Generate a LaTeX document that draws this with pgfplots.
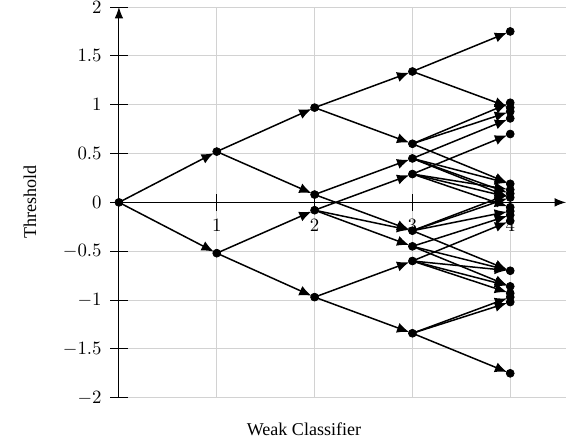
\documentclass[border=0pt]{standalone}
\usepackage{fontspec}
\setmainfont{Liberation Serif}
\usepackage{pgfplots}
\pgfplotsset{compat=1.18}
\usetikzlibrary{arrows.meta}
\begin{document}
\begin{tikzpicture}
\begin{axis}[
  scale only axis,
  width=238pt, height=208pt,
  xmin=0, xmax=4.57, ymin=-2, ymax=2,
  axis lines=middle,
  axis line style={-{Latex[length=6pt,width=4.5pt]}, line width=0.5pt},
  xtick={1,2,3,4},
  ytick={-2,-1.5,-1,-0.5,0,0.5,1,1.5,2},
  yticklabels={$-2$,$-1.5$,$-1$,$-0.5$,$0$,$0.5$,$1$,$1.5$,$2$},
  hide obscured y ticks=false,
  hide obscured x ticks=false,
  tick align=center,
  major tick length=0.33cm,
  tick style={black, line width=0.5pt},
  grid=major,
  grid style={gray!35, line width=0.5pt},
  xticklabel style={anchor=north, yshift=-1pt},
  yticklabel style={anchor=east, xshift=-1pt},
  xlabel={Weak Classifier},
  ylabel={Threshold},
  xlabel style={at={(axis description cs:0.414,-0.097)}, anchor=base, font=\fontsize{9.6}{11}\selectfont},
  ylabel style={at={(axis description cs:-0.199,0.5)}, anchor=center, rotate=90, font=\fontsize{9.6}{11}\selectfont},
  clip=false,
  edge/.style={black, line width=0.8pt, -{Latex[length=6.5pt,width=5.5pt]}, shorten >=1.8pt},
]
\coordinate (bbll) at (axis description cs:-0.266,-0.110);
\coordinate (bbur) at (axis description cs:1.0157,1.018);
% level 0 -> 1
\addplot[edge] coordinates {(0,0) (1,0.52)};
\addplot[edge] coordinates {(0,0) (1,-0.52)};
% level 1 -> 2
\addplot[edge] coordinates {(1,0.52) (2,0.97)};
\addplot[edge] coordinates {(1,0.52) (2,0.08)};
\addplot[edge] coordinates {(1,-0.52) (2,-0.08)};
\addplot[edge] coordinates {(1,-0.52) (2,-0.97)};
% level 2 -> 3
\addplot[edge] coordinates {(2,0.97) (3,1.34)};
\addplot[edge] coordinates {(2,0.97) (3,0.60)};
\addplot[edge] coordinates {(2,0.08) (3,0.45)};
\addplot[edge] coordinates {(2,0.08) (3,-0.29)};
\addplot[edge] coordinates {(2,-0.08) (3,0.29)};
\addplot[edge] coordinates {(2,-0.08) (3,-0.29)};
\addplot[edge] coordinates {(2,-0.08) (3,-0.45)};
\addplot[edge] coordinates {(2,-0.97) (3,-0.60)};
\addplot[edge] coordinates {(2,-0.97) (3,-1.34)};
% level 3 -> 4 (upper)
\addplot[edge] coordinates {(3,1.34) (4,1.75)};
\addplot[edge] coordinates {(3,1.34) (4,0.97)};
\addplot[edge] coordinates {(3,0.60) (4,1.02)};
\addplot[edge] coordinates {(3,0.60) (4,0.93)};
\addplot[edge] coordinates {(3,0.60) (4,0.19)};
\addplot[edge] coordinates {(3,0.45) (4,0.86)};
\addplot[edge] coordinates {(3,0.45) (4,0.19)};
\addplot[edge] coordinates {(3,0.45) (4,0.09)};
\addplot[edge] coordinates {(3,0.45) (4,0.05)};
\addplot[edge] coordinates {(3,0.29) (4,0.70)};
\addplot[edge] coordinates {(3,0.29) (4,0.13)};
\addplot[edge] coordinates {(3,0.29) (4,0.05)};
\addplot[edge] coordinates {(3,0.29) (4,-0.05)};
% level 3 -> 4 (lower)
\addplot[edge] coordinates {(3,-1.34) (4,-1.75)};
\addplot[edge] coordinates {(3,-1.34) (4,-0.97)};
\addplot[edge] coordinates {(3,-1.34) (4,-1.02)};
\addplot[edge] coordinates {(3,-0.60) (4,-0.70)};
\addplot[edge] coordinates {(3,-0.60) (4,-0.86)};
\addplot[edge] coordinates {(3,-0.60) (4,-0.93)};
\addplot[edge] coordinates {(3,-0.60) (4,-0.19)};
\addplot[edge] coordinates {(3,-0.45) (4,-0.70)};
\addplot[edge] coordinates {(3,-0.45) (4,-0.86)};
\addplot[edge] coordinates {(3,-0.45) (4,-0.13)};
\addplot[edge] coordinates {(3,-0.29) (4,-0.70)};
\addplot[edge] coordinates {(3,-0.29) (4,0.09)};
\addplot[edge] coordinates {(3,-0.29) (4,0.05)};
\addplot[edge] coordinates {(3,-0.29) (4,-0.09)};
% nodes
\addplot[only marks, mark=*, mark size=2.1pt, black] coordinates {
 (0,0) (1,0.52) (1,-0.52)
 (2,0.97) (2,0.08) (2,-0.08) (2,-0.97)
 (3,1.34) (3,0.60) (3,0.45) (3,0.29) (3,-0.29) (3,-0.45) (3,-0.60) (3,-1.34)
 (4,1.75) (4,1.02) (4,0.97) (4,0.93) (4,0.86) (4,0.70) (4,0.19) (4,0.13) (4,0.09) (4,0.05)
 (4,-0.05) (4,-0.09) (4,-0.13) (4,-0.19) (4,-0.70) (4,-0.86) (4,-0.93) (4,-0.97) (4,-1.02) (4,-1.75)
};
\end{axis}
\pgfresetboundingbox
\path (bbll) rectangle (bbur);
\end{tikzpicture}
\end{document}
